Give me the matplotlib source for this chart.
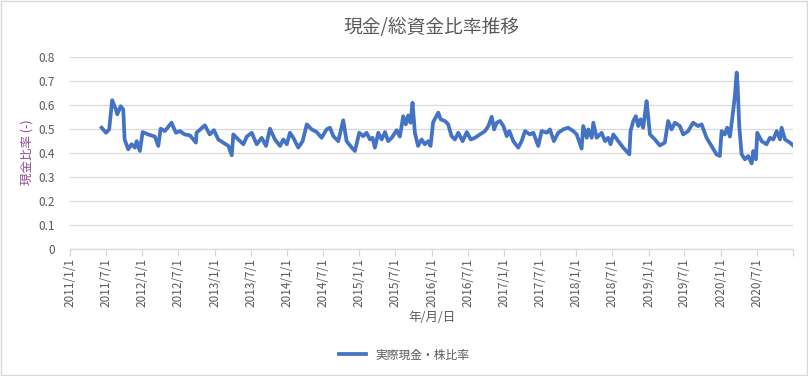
import matplotlib
matplotlib.use("Agg")
import matplotlib.pyplot as plt
import matplotlib.patches as mpatches
import pandas as pd

plt.rcParams["font.family"] = ["Noto Sans CJK JP", "DejaVu Sans"]

# values
dates = [
    "2011-06-10", "2011-07-02", "2011-07-18", "2011-08-02", "2011-08-21", "2011-08-28",
    "2011-09-14", "2011-09-27", "2011-10-04", "2011-10-22", "2011-11-08", "2011-11-25",
    "2011-12-04", "2011-12-20", "2012-01-03", "2012-01-31", "2012-03-05", "2012-03-22",
    "2012-04-03", "2012-04-24", "2012-05-28", "2012-06-19", "2012-07-09", "2012-08-03",
    "2012-08-29", "2012-09-28", "2012-10-01", "2012-11-12", "2012-12-07", "2012-12-28",
    "2013-01-19", "2013-02-13", "2013-03-11", "2013-03-28", "2013-04-05", "2013-04-30",
    "2013-05-26", "2013-06-12", "2013-07-07", "2013-08-01", "2013-08-26", "2013-09-17",
    "2013-10-07", "2013-11-01", "2013-11-27", "2013-12-13", "2013-12-31", "2014-01-16",
    "2014-02-02", "2014-02-27", "2014-03-21", "2014-04-11", "2014-05-06", "2014-05-31",
    "2014-06-25", "2014-07-20", "2014-08-06", "2014-08-23", "2014-09-17", "2014-10-12",
    "2014-10-29", "2014-11-24", "2014-12-10", "2015-01-01", "2015-01-21", "2015-02-07",
    "2015-02-24", "2015-03-09", "2015-03-21", "2015-04-07", "2015-04-24", "2015-05-11",
    "2015-05-27", "2015-06-14", "2015-07-09", "2015-07-25", "2015-08-11", "2015-08-24",
    "2015-09-05", "2015-09-17", "2015-09-27", "2015-10-09", "2015-10-25", "2015-11-12",
    "2015-11-28", "2015-12-15", "2015-12-27", "2016-01-09", "2016-02-04", "2016-02-16",
    "2016-03-09", "2016-03-25", "2016-04-11", "2016-04-28", "2016-05-15", "2016-06-06",
    "2016-06-27", "2016-07-17", "2016-08-07", "2016-09-02", "2016-09-27", "2016-10-14",
    "2016-10-31", "2016-11-12", "2016-11-25", "2016-12-12", "2016-12-29", "2017-01-15",
    "2017-01-28", "2017-02-17", "2017-03-14", "2017-03-31", "2017-04-17", "2017-05-12",
    "2017-05-29", "2017-06-23", "2017-07-10", "2017-08-05", "2017-08-21", "2017-09-10",
    "2017-10-02", "2017-10-27", "2017-11-21", "2017-12-17", "2018-01-03", "2018-01-28",
    "2018-02-05", "2018-02-23", "2018-03-03", "2018-03-20", "2018-03-28", "2018-04-14",
    "2018-05-09", "2018-05-26", "2018-06-11", "2018-06-23", "2018-07-07", "2018-08-01",
    "2018-08-26", "2018-09-26", "2018-10-02", "2018-10-16", "2018-10-29", "2018-11-10",
    "2018-11-22", "2018-12-05", "2018-12-22", "2018-12-30", "2019-01-08", "2019-02-02",
    "2019-02-27", "2019-03-24", "2019-04-10", "2019-04-27", "2019-05-14", "2019-06-08",
    "2019-06-25", "2019-07-20", "2019-08-14", "2019-09-08", "2019-09-26", "2019-10-21",
    "2019-11-15", "2019-12-10", "2019-12-27", "2020-01-05", "2020-01-21", "2020-02-02",
    "2020-02-16", "2020-02-29", "2020-03-12", "2020-03-21", "2020-03-26", "2020-04-03",
    "2020-04-15", "2020-05-02", "2020-05-18", "2020-06-05", "2020-06-13", "2020-06-26",
    "2020-07-03", "2020-07-25", "2020-08-19", "2020-09-05", "2020-09-22", "2020-10-09",
    "2020-10-26", "2020-11-03", "2020-11-20", "2020-12-15", "2020-12-31",
]
cash_ratio = [
    0.504, 0.483, 0.497, 0.619, 0.580, 0.560, 0.594, 0.580, 0.455, 0.414, 0.435, 0.421,
    0.448, 0.407, 0.486, 0.476, 0.467, 0.428, 0.500, 0.490, 0.525, 0.483, 0.490, 0.476,
    0.472, 0.442, 0.483, 0.514, 0.476, 0.494, 0.455, 0.442, 0.428, 0.389, 0.476, 0.455,
    0.435, 0.467, 0.483, 0.435, 0.462, 0.428, 0.500, 0.455, 0.428, 0.455, 0.435, 0.483,
    0.462, 0.421, 0.448, 0.518, 0.497, 0.486, 0.462, 0.497, 0.504, 0.469, 0.448, 0.535,
    0.448, 0.421, 0.407, 0.483, 0.469, 0.483, 0.455, 0.462, 0.421, 0.483, 0.455, 0.486,
    0.448, 0.462, 0.494, 0.467, 0.552, 0.518, 0.555, 0.525, 0.608, 0.483, 0.428, 0.455,
    0.435, 0.448, 0.428, 0.527, 0.567, 0.539, 0.532, 0.518, 0.469, 0.455, 0.483, 0.448,
    0.486, 0.455, 0.462, 0.476, 0.490, 0.511, 0.550, 0.497, 0.525, 0.532, 0.511, 0.469,
    0.490, 0.448, 0.421, 0.448, 0.490, 0.476, 0.483, 0.428, 0.490, 0.483, 0.497, 0.448,
    0.483, 0.497, 0.504, 0.490, 0.476, 0.417, 0.511, 0.462, 0.497, 0.462, 0.525, 0.462,
    0.483, 0.448, 0.462, 0.435, 0.476, 0.448, 0.421, 0.393, 0.490, 0.532, 0.552, 0.511,
    0.539, 0.504, 0.615, 0.552, 0.476, 0.455, 0.430, 0.442, 0.532, 0.497, 0.525, 0.511,
    0.476, 0.490, 0.525, 0.511, 0.518, 0.462, 0.428, 0.393, 0.386, 0.490, 0.476, 0.504,
    0.467, 0.552, 0.636, 0.734, 0.678, 0.511, 0.393, 0.372, 0.386, 0.355, 0.407, 0.372,
    0.483, 0.448, 0.435, 0.462, 0.455, 0.490, 0.455, 0.504, 0.455, 0.442, 0.430,
]
tick_dates = pd.date_range("2011-01-01", "2021-01-01", freq="6MS")
tick_labels = [f"{d.year}/{d.month}/{d.day}" for d in tick_dates[:-1]] + [""]
y_ticks = [0, 0.1, 0.2, 0.3, 0.4, 0.5, 0.6, 0.7, 0.8]
y_labels = ["0", "0.1", "0.2", "0.3", "0.4", "0.5", "0.6", "0.7", "0.8"]

text_gray = "#595959"
grid_gray = "#d9d9d9"

fig = plt.figure(figsize=(8.08, 3.76), dpi=100)
ax = fig.add_axes([0.0866, 0.339, 0.8952, 0.510])

ax.plot(pd.to_datetime(dates), cash_ratio, color="#4472c4", linewidth=2.7,
        solid_joinstyle="round", label="実際現金・株比率")

ax.set_xlim(tick_dates[0], tick_dates[-1])
ax.set_ylim(0, 0.8)
ax.set_yticks(y_ticks)
ax.set_yticklabels(y_labels)
ax.set_xticks(tick_dates)
ax.set_xticklabels(tick_labels, rotation=90)

ax.grid(axis="y", color=grid_gray, linewidth=0.9)
ax.set_axisbelow(True)
for side in ["left", "right", "top"]:
    ax.spines[side].set_visible(False)
ax.spines["bottom"].set_color(grid_gray)
ax.spines["bottom"].set_linewidth(0.9)
ax.tick_params(axis="x", colors=grid_gray, length=5, width=0.9, pad=2,
               labelcolor=text_gray, labelsize=8.5)
ax.tick_params(axis="y", length=0, pad=11, labelcolor=text_gray, labelsize=8.5)

ax.set_title("現金/総資金比率推移", color=text_gray, fontsize=13.5, pad=17)
ax.set_ylabel("現金比率 (-)", color="#8a4a8a", fontsize=9)
ax.yaxis.set_label_coords(-0.051, 0.5)
ax.set_xlabel("年/月/日", color=text_gray, fontsize=9)
ax.xaxis.set_label_coords(0.5, -0.325)

fig.legend(loc="center", bbox_to_anchor=(0.5, 0.056), frameon=False,
           fontsize=8.5, labelcolor=text_gray, handlelength=2.3)

fig.patches.append(mpatches.Rectangle((0.001, 0.002), 0.998, 0.995, transform=fig.transFigure,
                                      fill=False, edgecolor=grid_gray, linewidth=1))

fig.savefig("out.png", dpi=100)
